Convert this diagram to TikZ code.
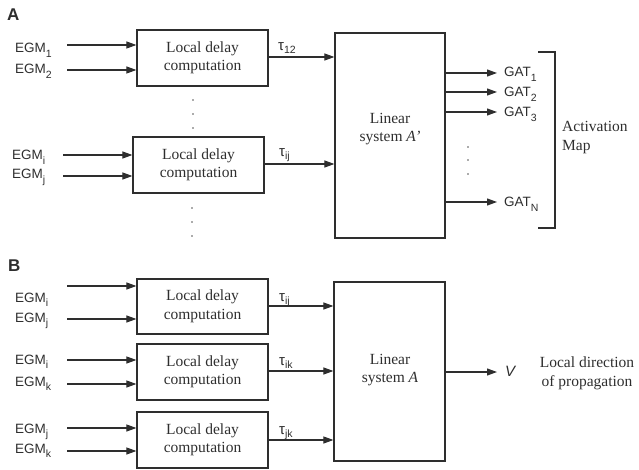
\documentclass[tikz,border=0pt]{standalone}
\usepackage{fontspec}
\setmainfont{Liberation Serif}
\newfontfamily\sansf{Liberation Sans}
\usetikzlibrary{arrows.meta}
\definecolor{ln}{HTML}{2E2E2E}
\newcommand{\dnsub}[1]{\raisebox{-0.32em}{\fontsize{10.5}{12}\selectfont #1}}
\newcommand{\tsub}[1]{\raisebox{-0.2em}{\fontsize{10.5}{12}\selectfont #1}}
\tikzset{
  box/.style={draw=ln,line width=1.2pt,inner sep=0pt,align=center,text=ln,
    font=\fontsize{15.5}{18.5}\selectfont},
  serif/.style={inner sep=0pt,align=center,text=ln,font=\fontsize{15.5}{18.5}\selectfont},
  arr/.style={draw=ln,line width=1.1pt,-{Triangle[length=10pt,width=7pt]}},
  egm/.style={anchor=base west,inner sep=0pt,text=ln,font=\sansf\fontsize{13.5}{16}\selectfont},
  tau/.style={anchor=base west,inner sep=0pt,text=ln,font=\sansf\fontsize{15}{17}\selectfont},
  panel/.style={anchor=base west,inner sep=0pt,text=ln,font=\sansf\bfseries\fontsize{17}{20}\selectfont},
  dotc/.style={fill=ln!80},
}
\begin{document}
\begin{tikzpicture}[x=1pt,y=-1pt]
\useasboundingbox (0,0) rectangle (639,470);
% ---------------- Panel A ----------------
\node[panel] (pA) at (7,21) {A};
\node[box,minimum width=131pt,minimum height=56pt] (b1) at (202.5,58) {Local delay\\computation};
\node[box,minimum width=131pt,minimum height=56pt] (b2) at (198.5,165) {Local delay\\computation};
\node[box,minimum width=110pt,minimum height=205pt] (bigA) at (390,135.5) {};
\node[serif] (tA) at (390,129) {Linear\\system \textit{A'}};

\node[egm] (e1) at (15,53) {EGM\dnsub{1}};
\node[egm] (e2) at (15,74) {EGM\dnsub{2}};
\node[egm] (e3) at (12,160) {EGM\dnsub{i}};
\node[egm] (e4) at (12,179) {EGM\dnsub{j}};

\coordinate (a1) at (67,45);
\coordinate (a2) at (67,70);
\coordinate (a3) at (63,155);
\coordinate (a4) at (63,176);
\draw[arr] (a1) -- (a1 -| b1.west);
\draw[arr] (a2) -- (a2 -| b1.west);
\draw[arr] (a3) -- (a3 -| b2.west);
\draw[arr] (a4) -- (a4 -| b2.west);

\draw[arr] (b1.east |- 0,57) -- (bigA.west |- 0,57);
\draw[arr] (b2.east |- 0,164) -- (bigA.west |- 0,164);
\node[tau] (t12) at (278,51) {τ\tsub{12}};
\node[tau] (tij) at (279,157) {τ\tsub{ij}};

\foreach \yy in {100,114,128} \fill[dotc] (193,\yy) circle (0.8pt);
\foreach \yy in {208,222,236} \fill[dotc] (192,\yy) circle (0.8pt);
\foreach \yy in {147,160,174} \fill[dotc] (468,\yy) circle (0.8pt);

\node[egm] (g1) at (504,77) {GAT\dnsub{1}};
\node[egm] (g2) at (504,97) {GAT\dnsub{2}};
\node[egm] (g3) at (504,117) {GAT\dnsub{3}};
\node[egm] (gN) at (504,207) {GAT\dnsub{N}};
\coordinate (y1) at (0,73);
\coordinate (y2) at (0,92);
\coordinate (y3) at (0,112);
\coordinate (yN) at (0,202);
\draw[arr,shorten >=7pt] (bigA.east |- y1) -- (g1.west |- y1);
\draw[arr,shorten >=7pt] (bigA.east |- y2) -- (g2.west |- y2);
\draw[arr,shorten >=7pt] (bigA.east |- y3) -- (g3.west |- y3);
\draw[arr,shorten >=7pt] (bigA.east |- yN) -- (gN.west |- yN);

\coordinate (br1) at (538,52);
\coordinate (br2) at (538,228);
\draw[ln,line width=1.4pt] (br1) -- (555,52) -- (555,228) -- (br2);
\node[serif,anchor=west,align=left] (act) at (562,137.5) {Activation\\Map};

% ---------------- Panel B ----------------
\node[panel] (pB) at (8,271) {B};
\node[box,minimum width=131pt,minimum height=55pt] (c1) at (202.5,306.5) {Local delay\\computation};
\node[box,minimum width=131pt,minimum height=56pt] (c2) at (202.5,372) {Local delay\\computation};
\node[box,minimum width=131pt,minimum height=56pt] (c3) at (202.5,440) {Local delay\\computation};
\node[box,minimum width=111pt,minimum height=179pt] (bigB) at (389.5,371.5) {};
\node[serif] (tB) at (390,370) {Linear\\system \textit{A}};

\node[egm] (f1) at (15,302) {EGM\dnsub{i}};
\node[egm] (f2) at (15,322) {EGM\dnsub{j}};
\node[egm] (f3) at (15,364) {EGM\dnsub{i}};
\node[egm] (f4) at (15,386) {EGM\dnsub{k}};
\node[egm] (f5) at (15,433) {EGM\dnsub{j}};
\node[egm] (f6) at (15,453) {EGM\dnsub{k}};

\coordinate (d1) at (67,286);
\coordinate (d2) at (67,319);
\coordinate (d3) at (67,360);
\coordinate (d4) at (67,384);
\coordinate (d5) at (67,428);
\coordinate (d6) at (67,451);
\draw[arr] (d1) -- (d1 -| c1.west);
\draw[arr] (d2) -- (d2 -| c1.west);
\draw[arr] (d3) -- (d3 -| c2.west);
\draw[arr] (d4) -- (d4 -| c2.west);
\draw[arr] (d5) -- (d5 -| c3.west);
\draw[arr] (d6) -- (d6 -| c3.west);

\draw[arr] (c1.east |- 0,306) -- (bigB.west |- 0,306);
\draw[arr] (c2.east |- 0,371) -- (bigB.west |- 0,371);
\draw[arr] (c3.east |- 0,440) -- (bigB.west |- 0,440);
\node[tau] (uij) at (279,301) {τ\tsub{ij}};
\node[tau] (uik) at (279,365) {τ\tsub{ik}};
\node[tau] (ujk) at (279,434) {τ\tsub{jk}};

\node[egm,anchor=west,font=\sansf\itshape\fontsize{15}{17}\selectfont] (v) at (505,371) {V};
\draw[arr,shorten >=8pt] (bigB.east |- 0,372) -- (v.west |- 0,372);
\node[serif] (ld) at (587,373.5) {Local direction\\of propagation};
\end{tikzpicture}
\end{document}
